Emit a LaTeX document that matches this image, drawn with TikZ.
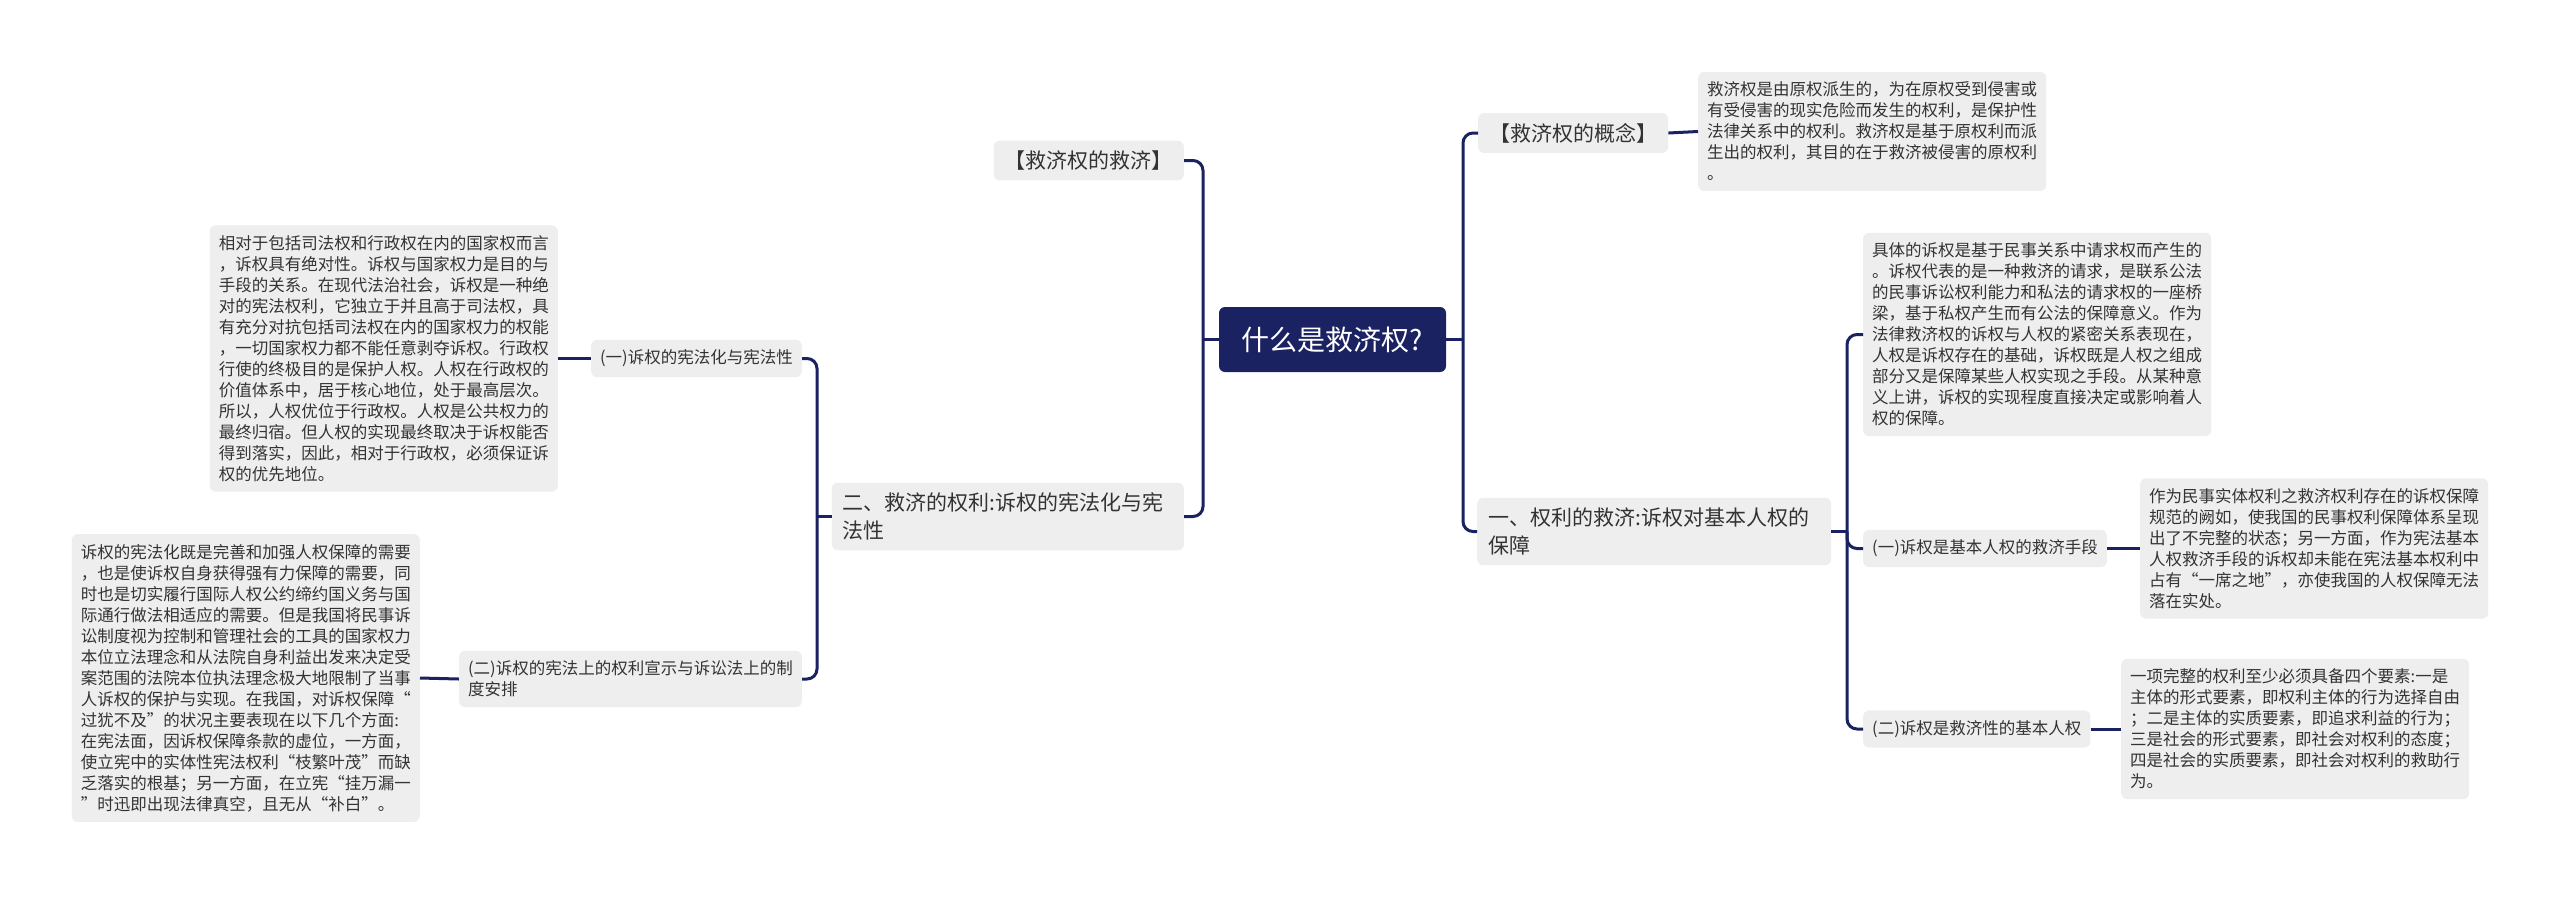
\documentclass[tikz,border=0pt]{standalone}
\usepackage{fontspec}
\setmainfont{Noto Sans CJK SC}
\definecolor{navy}{HTML}{1B2262}
\definecolor{boxgray}{HTML}{EEEEEE}
\definecolor{txtgray}{HTML}{333333}
\tikzset{
  conn/.style={draw=navy, line width=3pt, rounded corners=10pt},
  rootbox/.style={fill=navy, text=white, rounded corners=6pt, minimum width=227pt, minimum height=65pt, inner sep=0pt, font=\fontsize{28}{34}\selectfont},
  lone/.style={fill=boxgray, text=txtgray, rounded corners=6pt, inner xsep=11pt, inner ysep=10pt, align=left, font=\fontsize{21}{28}\selectfont},
  ltwo/.style={fill=boxgray, text=txtgray, rounded corners=6pt, inner xsep=9pt, inner ysep=10pt, align=left, font=\fontsize{16.5}{21}\selectfont},
  detail/.style={fill=boxgray, text=txtgray, rounded corners=6pt, inner xsep=9pt, inner ysep=10pt, align=left, font=\fontsize{16.5}{21}\selectfont},
}
\begin{document}
\begin{tikzpicture}[x=1pt,y=-1pt]
\useasboundingbox (0,0) rectangle (2560,898);
\fill[white] (0,0) rectangle (2560,898);

% root
\node[rootbox] (root) at (1332.5,339.5) {什么是救济权?};

% left level 1
\node[lone, anchor=east] (jj) at (1184,160.5) {【救济权的救济】};
\node[lone, anchor=east, text width=330pt] (er) at (1184,516.5) {二、救济的权利:诉权的宪法化与宪\\法性};

% right level 1
\node[lone, anchor=west] (gn) at (1478,133) {【救济权的概念】};
\node[lone, anchor=west, text width=332pt] (yi) at (1477,531.5) {一、权利的救济:诉权对基本人权的\\保障};

% left level 2
\node[ltwo, anchor=east] (er1) at (802,358.5) {(一)诉权的宪法化与宪法性};
\node[ltwo, anchor=east] (er2) at (802,679) {(二)诉权的宪法上的权利宣示与诉讼法上的制\\度安排};

% right level 2
\node[ltwo, anchor=west] (yi1) at (1863,548.5) {(一)诉权是基本人权的救济手段};
\node[ltwo, anchor=west] (yi2) at (1863,729) {(二)诉权是救济性的基本人权};

% details
\node[detail, anchor=west] (dgn) at (1698,131.5) {救济权是由原权派生的，为在原权受到侵害或\\有受侵害的现实危险而发生的权利，是保护性\\法律关系中的权利。救济权是基于原权利而派\\生出的权利，其目的在于救济被侵害的原权利\\。};

\node[detail, anchor=west] (djt) at (1863,334.5) {具体的诉权是基于民事关系中请求权而产生的\\。诉权代表的是一种救济的请求，是联系公法\\的民事诉讼权利能力和私法的请求权的一座桥\\梁，基于私权产生而有公法的保障意义。作为\\法律救济权的诉权与人权的紧密关系表现在，\\人权是诉权存在的基础，诉权既是人权之组成\\部分又是保障某些人权实现之手段。从某种意\\义上讲，诉权的实现程度直接决定或影响着人\\权的保障。};

\node[detail, anchor=west] (dzw) at (2140,548.5) {作为民事实体权利之救济权利存在的诉权保障\\规范的阙如，使我国的民事权利保障体系呈现\\出了不完整的状态；另一方面，作为宪法基本\\人权救济手段的诉权却未能在宪法基本权利中\\占有“一席之地”，亦使我国的人权保障无法\\落在实处。};

\node[detail, anchor=west] (dyx) at (2121,729) {一项完整的权利至少必须具备四个要素:一是\\主体的形式要素，即权利主体的行为选择自由\\；二是主体的实质要素，即追求利益的行为；\\三是社会的形式要素，即社会对权利的态度；\\四是社会的实质要素，即社会对权利的救助行\\为。};

\node[detail, anchor=east] (dxd) at (558,358.5) {相对于包括司法权和行政权在内的国家权而言\\，诉权具有绝对性。诉权与国家权力是目的与\\手段的关系。在现代法治社会，诉权是一种绝\\对的宪法权利，它独立于并且高于司法权，具\\有充分对抗包括司法权在内的国家权力的权能\\，一切国家权力都不能任意剥夺诉权。行政权\\行使的终极目的是保护人权。人权在行政权的\\价值体系中，居于核心地位，处于最高层次。\\所以，人权优位于行政权。人权是公共权力的\\最终归宿。但人权的实现最终取决于诉权能否\\得到落实，因此，相对于行政权，必须保证诉\\权的优先地位。};

\node[detail, anchor=east] (dsq) at (420,678) {诉权的宪法化既是完善和加强人权保障的需要\\，也是使诉权自身获得强有力保障的需要，同\\时也是切实履行国际人权公约缔约国义务与国\\际通行做法相适应的需要。但是我国将民事诉\\讼制度视为控制和管理社会的工具的国家权力\\本位立法理念和从法院自身利益出发来决定受\\案范围的法院本位执法理念极大地限制了当事\\人诉权的保护与实现。在我国，对诉权保障“\\过犹不及”的状况主要表现在以下几个方面:\\在宪法面，因诉权保障条款的虚位，一方面，\\使立宪中的实体性宪法权利“枝繁叶茂”而缺\\乏落实的根基；另一方面，在立宪“挂万漏一\\”时迅即出现法律真空，且无从“补白”。};

% spine coordinates
\coordinate (sL) at (1203,0);
\coordinate (sR) at (1463,0);
\coordinate (sL2) at (817,0);
\coordinate (sR2) at (1847,0);

% root connectors
\draw[conn] (root.west) -- (sL |- root.west);
\draw[conn] (jj.east) -- (sL |- jj.east) -- (sL |- er.east) -- (er.east);
\draw[conn] (root.east) -- (sR |- root.east);
\draw[conn] (gn.west) -- (sR |- gn.west) -- (sR |- yi.west) -- (yi.west);

% left level 2
\draw[conn] (er.west) -- (sL2 |- er.west);
\draw[conn] (er1.east) -- (sL2 |- er1.east) -- (sL2 |- er2.east) -- (er2.east);
\draw[conn] (er1.west) -- (dxd.east);
\draw[conn] (er2.west) -- (dsq.east);

% right level 2
\draw[conn] (yi.east) -- (sR2 |- yi.east);
\draw[conn] (djt.west) -- (sR2 |- djt.west) -- (sR2 |- yi2.west) -- (yi2.west);
\draw[conn] (sR2 |- yi.east) -- (sR2 |- yi1.west) -- (yi1.west);
\draw[conn] (gn.east) -- (dgn.west);
\draw[conn] (yi1.east) -- (dzw.west);
\draw[conn] (yi2.east) -- (dyx.west);
\end{tikzpicture}
\end{document}
